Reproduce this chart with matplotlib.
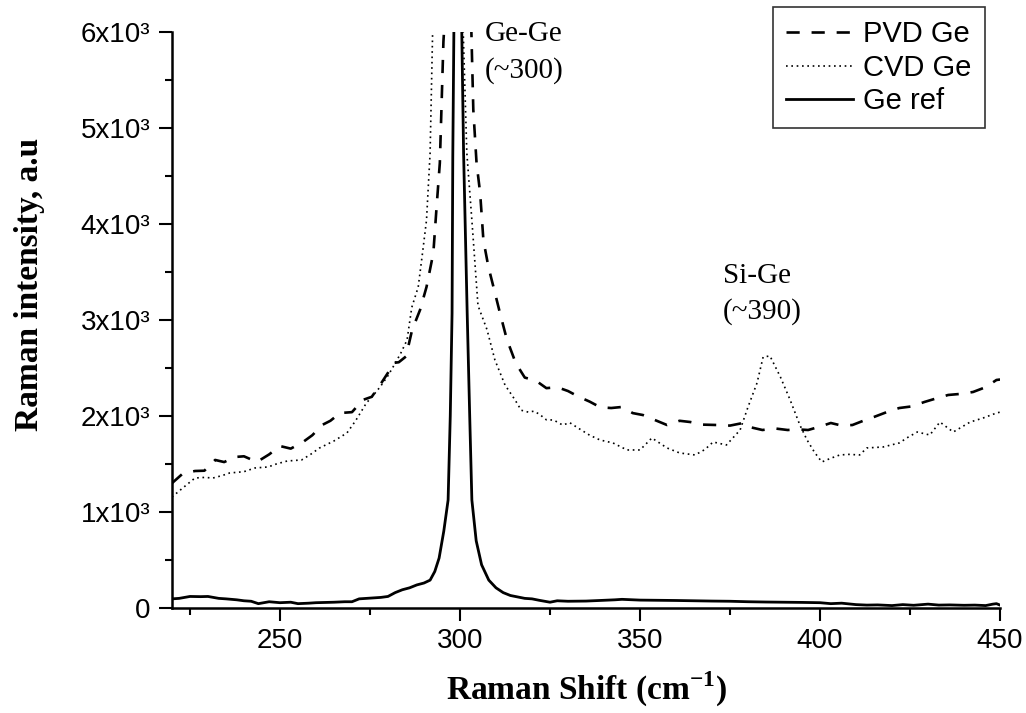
import matplotlib.pyplot as plt
from matplotlib.ticker import MultipleLocator, FixedLocator

plt.rcParams['font.family'] = ['Liberation Sans', 'DejaVu Sans']
plt.rcParams['mathtext.fontset'] = 'custom'
plt.rcParams['mathtext.rm'] = 'Liberation Serif'
plt.rcParams['mathtext.bf'] = 'Liberation Serif:bold'

# PVD Ge spectrum
pvd_x = [220, 223, 226.4, 229, 232, 234.5, 237.5, 240, 243.6, 247,
         250, 253, 256.4, 259, 261.7, 264, 266.7, 270, 273, 275.5,
         277.8, 280, 281.4, 283, 285, 286.7, 288.9, 290.7, 292.6, 293.5,
         294.4, 294.9, 295.4, 296.5, 298, 300, 302, 303.1, 303.7, 304.6,
         305.6, 306.5, 307.9, 309.3, 311.1, 313, 315.5, 318, 321, 324,
         327, 330, 333, 336, 339, 342, 345, 348, 350.8, 354,
         357.5, 361, 364, 367.5, 371.4, 375, 378.6, 381, 384, 387.5,
         391, 394, 396.7, 400, 403, 406, 409, 412, 415, 418.5,
         422, 425.5, 429, 432, 435.6, 439, 442.5, 446, 449, 450]
pvd_y = [1300, 1400, 1427, 1430, 1542, 1520, 1573, 1580, 1521, 1600,
         1687, 1660, 1729, 1800, 1906, 1950, 2031, 2040, 2167, 2200,
         2323, 2450, 2552, 2560, 2620, 2896, 3104, 3344, 3698, 4177,
         4635, 5260, 5900, 6600, 7500, 7800, 7000, 6100, 5190, 4635,
         4323, 3833, 3552, 3344, 3073, 2800, 2550, 2400, 2370, 2290,
         2300, 2260, 2200, 2150, 2090, 2083, 2094, 2030, 2010, 1960,
         1906, 1950, 1937, 1910, 1906, 1900, 1927, 1880, 1854, 1870,
         1854, 1860, 1854, 1890, 1927, 1900, 1906, 1950, 1990, 2040,
         2083, 2100, 2146, 2180, 2219, 2230, 2250, 2300, 2375, 2380]

# CVD Ge spectrum
cvd_x = [220, 223, 226.4, 229, 231.4, 234, 236, 240, 243, 246.7,
         249, 252, 256, 258.5, 261, 265, 268.6, 271, 274, 276,
         277.8, 280, 281.4, 283.5, 285.3, 286.6, 288.4, 289.6, 290.7, 291.7,
         292.4, 293, 295, 297, 299, 300.2, 300.9, 301.9, 303.3, 305,
         307.5, 309.7, 312.5, 315.3, 317, 319, 320.5, 322, 324, 326,
         328.5, 330.5, 333, 336, 338.9, 342.5, 346.4, 350, 353.3, 357.5,
         361, 365.3, 368, 370.3, 374, 377.8, 380, 382.5, 384.2, 386.1,
         389, 391.7, 394.4, 396.4, 398.5, 400.5, 403, 405.5, 408, 411,
         413, 417.5, 422, 424.5, 427, 430.5, 433.3, 437, 441.7, 445.3,
         449, 450]
cvd_y = [1156, 1250, 1354, 1360, 1354, 1380, 1406, 1420, 1458, 1469,
         1500, 1531, 1542, 1600, 1667, 1740, 1823, 1950, 2135, 2220,
         2302, 2420, 2510, 2650, 2792, 3130, 3344, 3700, 4040, 4740,
         6000, 6800, 7500, 7800, 7500, 6800, 6000, 4740, 4040, 3150,
         2900, 2583, 2323, 2167, 2060, 2040, 2050, 2020, 1960, 1958,
         1906, 1930, 1870, 1800, 1750, 1719, 1646, 1646, 1771, 1667,
         1615, 1594, 1650, 1729, 1698, 1854, 2094, 2344, 2615, 2625,
         2406, 2167, 1906, 1750, 1620, 1521, 1560, 1594, 1600, 1594,
         1667, 1677, 1719, 1780, 1833, 1802, 1937, 1833, 1937, 1979,
         2031, 2040]

# Ge reference spectrum
ref_x = [220, 222, 225, 228, 230, 233, 235, 238, 240, 242,
         244, 247, 250, 253, 255, 258, 260, 263, 265, 268,
         270, 272, 274, 276, 278, 280, 282, 284, 286, 288,
         290, 291.7, 293, 294.2, 295.5, 296.7, 297.3, 297.8, 298.0, 298.3,
         299.4, 300.5, 301.0, 302.0, 302.7, 303.3, 304.5, 306, 308, 310,
         312, 314, 316, 318, 320, 322, 325, 327, 330, 335,
         340, 343, 345, 350, 355, 360, 365, 370, 375, 380,
         385, 390, 395, 400, 403, 406, 410, 413, 416, 420,
         423, 426, 430, 433, 436, 440, 443, 446, 448, 449,
         450]
ref_y = [95, 100, 120, 118, 120, 100, 95, 85, 75, 70,
         45, 65, 55, 60, 45, 50, 55, 58, 60, 65,
         65, 95, 100, 105, 110, 120, 160, 190, 210, 240,
         260, 290, 380, 520, 800, 1125, 2000, 3070, 4700, 6000,
         9000, 6000, 4740, 3070, 2000, 1125, 700, 450, 290, 210,
         160, 130, 115, 100, 95, 80, 60, 75, 70, 72,
         80, 85, 90, 82, 80, 78, 75, 72, 70, 65,
         62, 60, 58, 55, 45, 50, 35, 30, 32, 25,
         35, 28, 40, 30, 32, 28, 30, 25, 40, 45,
         30]

y_ticks = [0, 1000, 2000, 3000, 4000, 5000, 6000]
y_tick_labels = ['0', '1x10³', '2x10³', '3x10³', '4x10³', '5x10³', '6x10³']

fig = plt.figure(figsize=(10.26, 7.13), dpi=100)
ax = fig.add_axes([0.1676, 0.1473, 0.8071, 0.8078])

ax.plot(pvd_x, pvd_y, color='black', lw=1.9, dashes=(5, 4.5), label='PVD Ge')
ax.plot(cvd_x, cvd_y, color='black', lw=1.2, dashes=(1, 2.2), label='CVD Ge')
ax.plot(ref_x, ref_y, color='black', lw=2.0, label='Ge ref')

ax.set_xlim(220, 450)
ax.set_ylim(0, 6000)

ax.spines['top'].set_visible(False)
ax.spines['right'].set_visible(False)
ax.spines['left'].set_linewidth(1.8)
ax.spines['bottom'].set_linewidth(1.8)

ax.xaxis.set_major_locator(MultipleLocator(50))
ax.xaxis.set_minor_locator(MultipleLocator(25))
ax.yaxis.set_major_locator(FixedLocator(y_ticks))
ax.yaxis.set_minor_locator(MultipleLocator(500))
ax.set_yticklabels(y_tick_labels)

ax.tick_params(which='major', direction='out', length=9.5, width=1.5,
               labelsize=20, pad=5)
ax.tick_params(which='minor', direction='out', length=5, width=1.5)
ax.tick_params(axis='y', which='major', pad=6)

ax.set_xlabel(r'Raman Shift (cm$^{\mathbf{-1}}$)', fontsize=24,
              fontweight='bold', family='Liberation Serif', va='center')
ax.xaxis.set_label_coords(0.5, -0.142)
ax.set_ylabel('Raman intensity, a.u', fontsize=24, fontweight='bold',
              family='Liberation Serif', va='center')
ax.yaxis.set_label_coords(-0.1715, 0.5625)

ax.text(307, 5786, 'Ge-Ge\n(~300)', fontsize=21, family='Liberation Serif',
        ha='left', va='center', linespacing=1.45)
ax.text(373, 3271, 'Si-Ge\n(~390)', fontsize=21, family='Liberation Serif',
        ha='left', va='center', linespacing=1.45)

leg = ax.legend(loc='upper right', bbox_to_anchor=(0.960, 0.990),
                bbox_transform=fig.transFigure, fontsize=21, frameon=True,
                fancybox=False, borderaxespad=0, borderpad=0.45,
                labelspacing=0.19, handlelength=2.3, handletextpad=0.35)
leg.get_frame().set_edgecolor('black')
leg.get_frame().set_linewidth(1.2)

plt.savefig('out.png', dpi=100)
